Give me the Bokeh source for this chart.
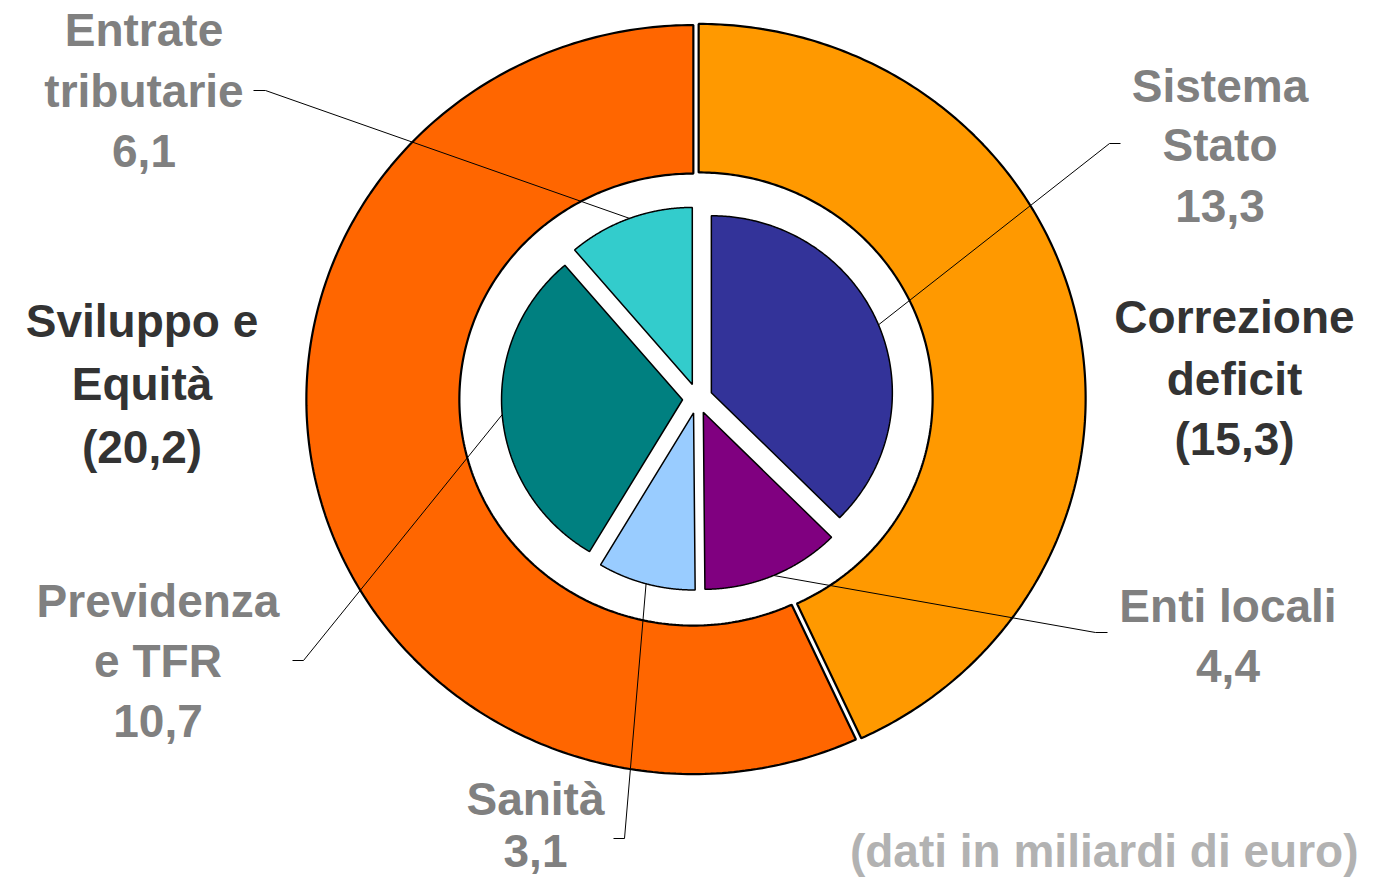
import numpy as np
from bokeh.plotting import figure
from bokeh.models import Range1d, ColumnDataSource
from bokeh.core.properties import value
from bokeh.embed import file_html
from bokeh.resources import INLINE

# ---------------- data ----------------
outer_names = ["Correzione deficit", "Sviluppo e Equità"]
outer_values = [15.3, 20.2]
outer_colors = ["#FF9900", "#FF6600"]
outer_label_lines = [["Correzione", "deficit"], ["Sviluppo e", "Equità"]]

inner_names = ["Sistema Stato", "Enti locali", "Sanità", "Previdenza e TFR", "Entrate tributarie"]
inner_values = [13.3, 4.4, 3.1, 10.7, 6.1]
inner_colors = ["#333399", "#800080", "#99CCFF", "#008080", "#33CCCC"]
inner_label_lines = [["Sistema", "Stato"], ["Enti locali"], ["Sanità"], ["Previdenza", "e TFR"], ["Entrate", "tributarie"]]

note_text = "(dati in miliardi di euro)"


def fmt(v):
    return f"{v:.1f}".replace(".", ",")


# ---------------- layout (pixel space) ----------------
OUT_C = (695.5, 398.5)
OUT_R = (387.0, 374.5)
OUT_HOLE = (234.0, 226.0)
OUT_EXPLODE = 2.7

IN_C = (697.0, 398.0)
IN_R = (181.0, 177.0)
IN_EXPLODE = 15.0

TEXT_SHIFT = 17  # baseline -> anchor offset

label_layout = {
    "Correzione deficit": (1234, [333, 395, 455], "#333333"),
    "Sviluppo e Equità": (141.5, [337, 400, 463], "#333333"),
    "Sistema Stato": (1219.5, [102, 161, 222], "#808080"),
    "Enti locali": (1227.5, [622, 682], "#808080"),
    "Sanità": (535, [815, 867], "#808080"),
    "Previdenza e TFR": (157.5, [617, 677, 737], "#808080"),
    "Entrate tributarie": (143.5, [46, 107, 167], "#808080"),
}
note_layout = (1358, 867, "#B2B2B2")
leader_elbows = {
    "Sistema Stato": [(1109, 143), (1120, 143)],
    "Enti locali": [(1095, 632), (1107, 632)],
    "Sanità": [(624, 838), (613, 838)],
    "Previdenza e TFR": [(303, 660), (292, 660)],
    "Entrate tributarie": [(265, 90), (253, 90)],
}


def sector(c, r_out, r_in, a0, a1, explode, n=240):
    mid = (a0 + a1) / 2
    cx = c[0] + explode * np.sin(mid)
    cy = c[1] - explode * np.cos(mid)
    t = np.linspace(a0, a1, n)
    xo = cx + r_out[0] * np.sin(t)
    yo = cy - r_out[1] * np.cos(t)
    if r_in is None:
        xs = np.concatenate([[cx], xo])
        ys = np.concatenate([[cy], yo])
    else:
        xi = cx + r_in[0] * np.sin(t[::-1])
        yi = cy - r_in[1] * np.cos(t[::-1])
        xs = np.concatenate([xo, xi])
        ys = np.concatenate([yo, yi])
    anchor = (cx + r_out[0] * np.sin(mid), cy - r_out[1] * np.cos(mid))
    return list(xs), list(ys), anchor


total = sum(outer_values)
out_edges = np.cumsum([0] + outer_values) / total * 2 * np.pi
in_edges = np.minimum(np.cumsum([0] + inner_values) / total, 1.0) * 2 * np.pi

p = figure(width=1360, height=879, x_range=Range1d(0, 1360), y_range=Range1d(879, 0),
           output_backend="svg", toolbar_location=None, min_border=0,
           x_axis_type=None, y_axis_type=None, background_fill_color="white")
p.grid.visible = False
p.outline_line_color = None

oxs, oys = [], []
for i in range(len(outer_values)):
    xs, ys, _ = sector(OUT_C, OUT_R, OUT_HOLE, out_edges[i], out_edges[i + 1], OUT_EXPLODE)
    oxs.append(xs)
    oys.append(ys)
p.patches(xs="xs", ys="ys", fill_color="color", line_color="black", line_width=2.2,
          source=ColumnDataSource(dict(xs=oxs, ys=oys, color=outer_colors)))

ixs, iys, anchors = [], [], []
for i in range(len(inner_values)):
    xs, ys, anc = sector(IN_C, IN_R, None, in_edges[i], in_edges[i + 1], IN_EXPLODE)
    ixs.append(xs)
    iys.append(ys)
    anchors.append(anc)
p.patches(xs="xs", ys="ys", fill_color="color", line_color="black", line_width=1.5,
          source=ColumnDataSource(dict(xs=ixs, ys=iys, color=inner_colors)))

# leader lines
lx, ly = [], []
for name, anc in zip(inner_names, anchors):
    pts = [anc] + leader_elbows[name]
    lx.append([q[0] for q in pts])
    ly.append([q[1] for q in pts])
p.multi_line(xs=lx, ys=ly, line_color="black", line_width=1)

# labels
tx, ty, tt, tc = [], [], [], []
for name, lines, v in zip(outer_names, outer_label_lines, outer_values):
    x, bases, col = label_layout[name]
    for line, b in zip(lines + [f"({fmt(v)})"], bases):
        tx.append(x); ty.append(b - TEXT_SHIFT); tt.append(line); tc.append(col)
for name, lines, v in zip(inner_names, inner_label_lines, inner_values):
    x, bases, col = label_layout[name]
    for line, b in zip(lines + [fmt(v)], bases):
        tx.append(x); ty.append(b - TEXT_SHIFT); tt.append(line); tc.append(col)

p.text(x="x", y="y", text="text", text_color="color",
       source=ColumnDataSource(dict(x=tx, y=ty, text=tt, color=tc)),
       text_font=value("Liberation Sans"), text_font_style="bold", text_font_size="46px",
       text_align="center", text_baseline="alphabetic")

p.text(x=[note_layout[0]], y=[note_layout[1] - TEXT_SHIFT], text=[note_text],
       text_color=note_layout[2], text_font=value("Liberation Sans"), text_font_style="bold",
       text_font_size="46px", text_align="right", text_baseline="alphabetic")

open("out.html", "w").write(file_html(p, INLINE))
